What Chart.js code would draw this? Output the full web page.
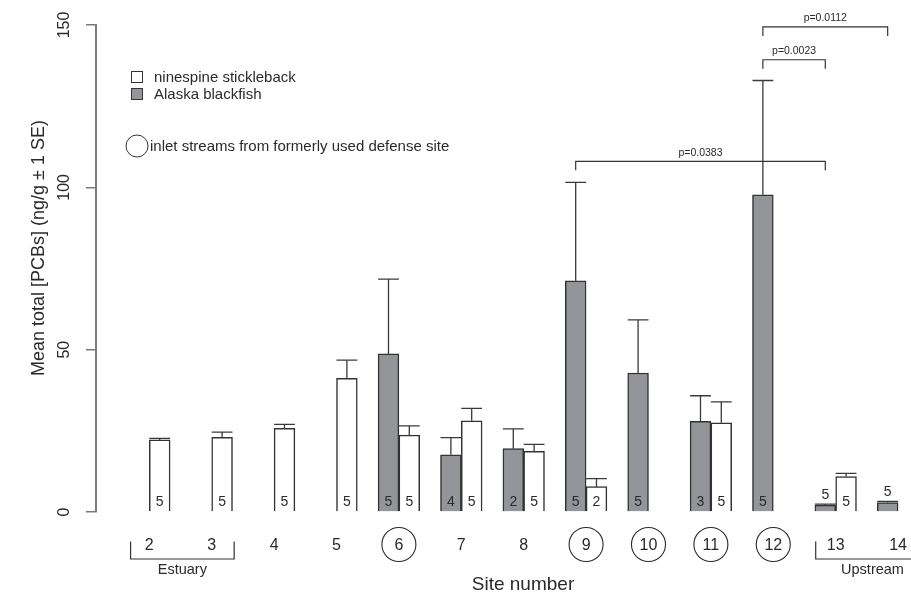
<!DOCTYPE html>
<html>
<head>
<meta charset="utf-8">
<script src="https://cdn.jsdelivr.net/npm/chart.js@4"></script>
<style>
  body { margin: 0; background: #fff; }
  #wrap { width: 911px; height: 596px; position: relative; }
</style>
</head>
<body>
<div id="wrap"><canvas id="chart"></canvas></div>
<script>
// ---- data ----
const sites = [2, 3, 4, 5, 6, 7, 8, 9, 10, 11, 12, 13, 14];
const sticklebackMean = [22.2, 23.0, 25.8, 41.2, 23.7, 28.1, 18.7, 7.8, null, 27.5, null, 10.9, null];
const sticklebackSE   = [0.5, 1.6, 1.2, 5.6, 2.8, 3.8, 2.1, 2.5, null, 6.4, null, 1.0, null];
const sticklebackN    = [5, 5, 5, 5, 5, 5, 5, 2, null, 5, null, 5, null];
const blackfishMean = [null, null, null, null, 48.7, 17.6, 19.5, 71.2, 42.8, 27.9, 97.7, 2.1, 2.9];
const blackfishSE   = [null, null, null, null, 23.0, 5.3, 6.1, 30.3, 16.4, 7.9, 35.2, 0.3, 0.4];
const blackfishN    = [null, null, null, null, 5, 4, 2, 5, 5, 3, 5, 5, 5];
const circledSites = [6, 9, 10, 11, 12];

// blackfish comparisons (brackets at the top)
const compFrom  = [9, 12, 12];
const compTo    = [13, 13, 14];
const compY     = [108, 139.3, 149.4];
const compLabel = ['p=0.0383', 'p=0.0023', 'p=0.0112'];

// site groups under the axis
const groupLabel = ['Estuary', 'Upstream'];
const groupFrom  = [1.7, 12.68];
const groupTo    = [3.36, 14.5];

const FONT = "'Liberation Sans', Arial, sans-serif";
const INK = '#2a2a2a';
const GREY = '#949599';
const SHIFT = 1 / 6;   // bar offset inside a site slot (slot = 3 bar widths)

function toPoints(means, se, n, shift) {
  const out = [];
  sites.forEach((s, i) => {
    if (means[i] == null) return;
    out.push({ x: s + shift, y: means[i], se: se[i], n: n[i] });
  });
  return out;
}

const extras = {
  id: 'extras',
  afterDatasetsDraw(chart) {
    const { ctx } = chart;
    const x = chart.scales.x, y = chart.scales.y;
    ctx.save();

    // error bars + sample sizes
    chart.data.datasets.forEach((ds, d) => {
      const meta = chart.getDatasetMeta(d);
      meta.data.forEach((bar, i) => {
        const p = ds.data[i];
        const yTop = y.getPixelForValue(p.y + p.se);
        const hw = bar.width / 2;
        ctx.strokeStyle = '#3a3a3a';
        ctx.lineWidth = 1.3;
        ctx.beginPath();
        ctx.moveTo(bar.x, bar.y);
        ctx.lineTo(bar.x, yTop);
        ctx.moveTo(bar.x - hw, yTop);
        ctx.lineTo(bar.x + hw, yTop);
        ctx.stroke();

        ctx.fillStyle = INK;
        ctx.font = '14px ' + FONT;
        ctx.textAlign = 'center';
        ctx.textBaseline = 'middle';
        const ny = p.y < 5 ? yTop - 9 : y.getPixelForValue(0) - 9.5;
        ctx.fillText(String(p.n), bar.x, ny);
      });
    });

    // circles round the defense-site labels
    ctx.strokeStyle = INK;
    ctx.lineWidth = 1.1;
    circledSites.forEach(s => {
      ctx.beginPath();
      ctx.arc(x.getPixelForValue(s), 544.5, 17, 0, Math.PI * 2);
      ctx.stroke();
    });

    // p-value brackets
    ctx.strokeStyle = '#333';
    ctx.lineWidth = 1.2;
    ctx.font = '10.5px ' + FONT;
    ctx.fillStyle = INK;
    compFrom.forEach((f, i) => {
      const x1 = x.getPixelForValue(f - SHIFT);
      const x2 = x.getPixelForValue(compTo[i] - SHIFT);
      const yy = y.getPixelForValue(compY[i]);
      ctx.beginPath();
      ctx.moveTo(x1, yy + 9); ctx.lineTo(x1, yy); ctx.lineTo(x2, yy); ctx.lineTo(x2, yy + 9);
      ctx.stroke();
      ctx.fillText(compLabel[i], (x1 + x2) / 2, yy - 8.5);
    });

    // Estuary / Upstream brackets
    ctx.font = '14.5px ' + FONT;
    groupLabel.forEach((g, i) => {
      const x1 = x.getPixelForValue(groupFrom[i]);
      const x2 = x.getPixelForValue(groupTo[i]);
      ctx.beginPath();
      ctx.moveTo(x1, 541.5); ctx.lineTo(x1, 559); ctx.lineTo(x2, 559); ctx.lineTo(x2, 541.5);
      ctx.stroke();
      ctx.fillText(g, (x1 + x2) / 2, 569.5);
    });

    // y tick labels (rotated, as in the original)
    ctx.font = '16px ' + FONT;
    y.ticks.forEach(t => {
      ctx.save();
      ctx.translate(65, y.getPixelForValue(t.value));
      ctx.rotate(-Math.PI / 2);
      ctx.fillText(String(t.value), 0, 0);
      ctx.restore();
    });

    // axis titles
    ctx.font = '18px ' + FONT;
    ctx.save();
    ctx.translate(39, 248);
    ctx.rotate(-Math.PI / 2);
    ctx.fillText('Mean total [PCBs] (ng/g \u00b1 1 SE)', 0, 0);
    ctx.restore();
    ctx.font = '19px ' + FONT;
    ctx.fillText('Site number', 523, 585);

    // legend
    ctx.lineWidth = 1;
    ctx.strokeStyle = '#333';
    ctx.fillStyle = '#fff';
    ctx.fillRect(131.5, 71.5, 11, 11); ctx.strokeRect(131.5, 71.5, 11, 11);
    ctx.fillStyle = GREY;
    ctx.fillRect(131.5, 88.5, 11, 11); ctx.strokeRect(131.5, 88.5, 11, 11);
    ctx.beginPath();
    ctx.arc(137, 146, 11, 0, Math.PI * 2);
    ctx.stroke();
    ctx.fillStyle = INK;
    ctx.textAlign = 'left';
    ctx.font = '15px ' + FONT;
    ctx.fillText('ninespine stickleback', 154, 77.5);
    ctx.fillText('Alaska blackfish', 154, 94.5);
    ctx.fillText('inlet streams from formerly used defense site', 150, 146.5);

    ctx.restore();
  }
};

new Chart(document.getElementById('chart'), {
  type: 'bar',
  data: {
    datasets: [
      {
        label: 'Alaska blackfish',
        data: toPoints(blackfishMean, blackfishSE, blackfishN, -SHIFT),
        backgroundColor: GREY, borderColor: '#333', borderWidth: 1.5,
        grouped: false, barPercentage: 1, categoryPercentage: 1
      },
      {
        label: 'ninespine stickleback',
        data: toPoints(sticklebackMean, sticklebackSE, sticklebackN, SHIFT),
        backgroundColor: '#fff', borderColor: '#333', borderWidth: 1.5,
        grouped: false, barPercentage: 1, categoryPercentage: 1
      }
    ]
  },
  options: {
    responsive: true, maintainAspectRatio: false, animation: false,
    layout: { padding: { left: 86, top: 25, right: 3, bottom: 41 } },
    plugins: { legend: { display: false }, tooltip: { enabled: false } },
    scales: {
      x: {
        type: 'linear', offset: false, min: 1.1458, max: 14.159,
        afterBuildTicks: s => { s.ticks = sites.map(v => ({ value: v })); },
        afterFit: s => { s.height = 43; s.paddingLeft = 0; s.paddingRight = 0; },
        grid: { display: false, drawTicks: false },
        border: { display: false },
        ticks: { color: INK, font: { family: FONT, size: 16 }, padding: 24, maxRotation: 0, autoSkip: false }
      },
      y: {
        min: 0, max: 150,
        afterBuildTicks: s => { s.ticks = [0, 50, 100, 150].map(v => ({ value: v })); },
        afterFit: s => { s.width = 10; s.paddingTop = 0; s.paddingBottom = 0; },
        grid: { drawOnChartArea: false, drawTicks: true, tickLength: 10, color: '#7a7a7a', lineWidth: 1.5 },
        border: { color: '#7a7a7a', width: 2 },
        ticks: { display: false }
      }
    }
  },
  plugins: [extras]
});
</script>
</body>
</html>
